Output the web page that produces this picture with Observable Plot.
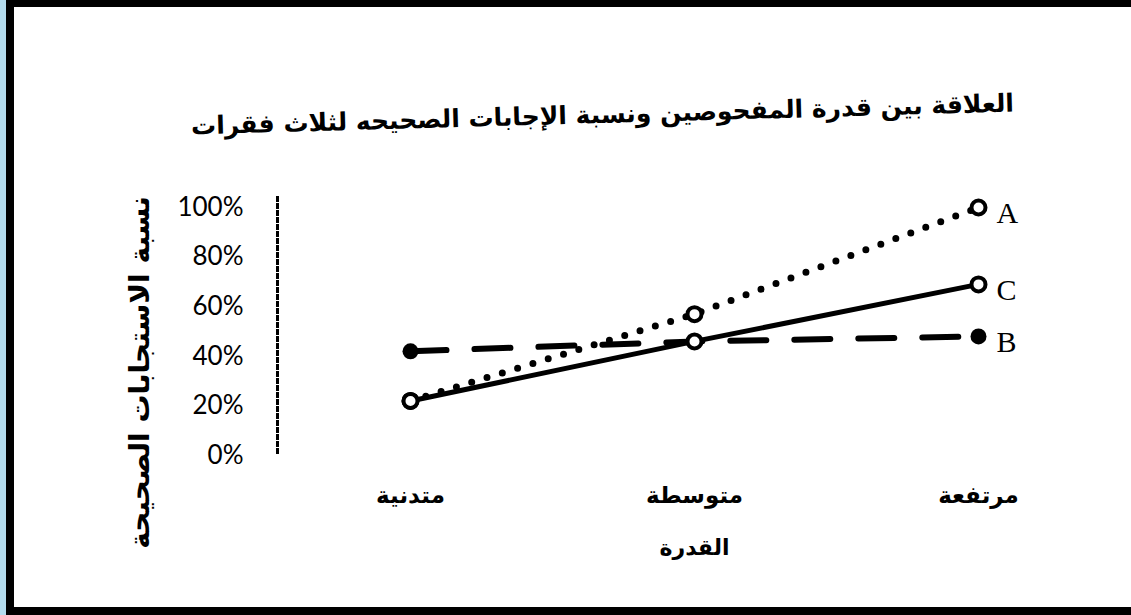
<!DOCTYPE html>
<html>
<head>
<meta charset="utf-8">
<script src="https://cdn.jsdelivr.net/npm/d3@7"></script>
<script src="https://cdn.jsdelivr.net/npm/@observablehq/plot@0.6"></script>
<style>
  html, body { margin: 0; padding: 0; background: #fff; }
  #wrap { position: relative; width: 1131px; height: 615px; overflow: hidden; background: #fff; }
  #blue { position: absolute; left: 0; top: 0; width: 6px; height: 615px; background: #b3dcee; }
  #bl { position: absolute; left: 6px; top: 0; width: 8px; height: 615px; background: #000; }
  #bt { position: absolute; left: 6px; top: 0; width: 1125px; height: 7px; background: #000; }
  #bb { position: absolute; left: 6px; top: 607px; width: 1125px; height: 8px; background: #000; }
  #title { position: absolute; left: 100px; width: 1005px; top: 100px; text-align: center;
    font-family: "DejaVu Sans", sans-serif; font-weight: bold; font-size: 25px; direction: rtl;
    transform: rotate(-1.6deg); transform-origin: center; white-space: nowrap; }
  #chart { position: absolute; left: 0; top: 0; }
</style>
</head>
<body>
<div id="wrap">
  <div id="blue"></div><div id="bl"></div><div id="bt"></div><div id="bb"></div>
  <div id="title">العلاقة بين قدرة  المفحوصين ونسبة الإجابات الصحيحه لثلاث فقرات</div>
  <div id="chart"></div>
</div>
<script>
const categories = ["متدنية", "متوسطة", "مرتفعة"];
const seriesA = [0.22, 0.57, 1.00];
const seriesB = [0.42, 0.46, 0.48];
const seriesC = [0.22, 0.46, 0.69];
const yTicks = [0, 0.2, 0.4, 0.6, 0.8, 1.0];
const xTitle = "القدرة";
const yTitle = "نسبة الاستجابات الصحيحة";

const toRows = (name, vals) => vals.map((v, i) => ({series: name, cat: categories[i], value: v, idx: i}));
const A = toRows("A", seriesA);
const B = toRows("B", seriesB);
const C = toRows("C", seriesC);
const last = [A[2], C[2], B[2]];

const arabic = "DejaVu Sans, sans-serif";

const chart = Plot.plot({
  width: 1131,
  height: 615,
  marginLeft: 277,
  marginTop: 197,
  marginBottom: 160,
  marginRight: 20,
  style: {background: "transparent", overflow: "visible"},
  x: {type: "point", domain: categories, range: [410, 978], padding: 0},
  y: {domain: [0, 1], range: [455, 207]},
  marks: [
    Plot.frame({anchor: "left", strokeDasharray: "3 4", strokeWidth: 3}),
    Plot.axisY({ticks: yTicks, tickFormat: d3.format(".0%"), tickSize: 0, tickPadding: 34,
      fontSize: 26, fontFamily: "Lato, sans-serif", label: null, textAnchor: "end"}),
    Plot.axisX({tickSize: 0, tickPadding: 31, fontSize: 23, fontWeight: "bold", fontFamily: arabic, label: null}),
    Plot.text([xTitle], {frameAnchor: "bottom", dy: 92, fontSize: 22, fontWeight: "bold", fontFamily: arabic, lineAnchor: "middle", textAnchor: "middle"}),
    Plot.text([yTitle], {frameAnchor: "left", dx: -137, dy: 46, rotate: -90, textAnchor: "middle", fontSize: 28, fontWeight: "bold", fontFamily: arabic}),
    Plot.line(A, {x: "cat", y: "value", stroke: "#000", strokeWidth: 7, strokeLinecap: "round", strokeDasharray: "0 16"}),
    Plot.line(B, {x: "cat", y: "value", stroke: "#000", strokeWidth: 6, strokeDasharray: "36 28"}),
    Plot.line(C, {x: "cat", y: "value", stroke: "#000", strokeWidth: 5}),
    Plot.dot(B, {x: "cat", y: "value", r: 8, fill: "#000", stroke: "none"}),
    Plot.dot(A, {x: "cat", y: "value", r: 7, fill: "#fff", stroke: "#000", strokeWidth: 4}),
    Plot.dot(C, {x: "cat", y: "value", r: 7, fill: "#fff", stroke: "#000", strokeWidth: 4}),
    Plot.text(last, {x: "cat", y: "value", text: "series", dx: 18, dy: 6, textAnchor: "start",
      fontSize: 30, fontFamily: "Liberation Serif, serif"})
  ]
});
document.getElementById("chart").appendChild(chart);
</script>
</body>
</html>
